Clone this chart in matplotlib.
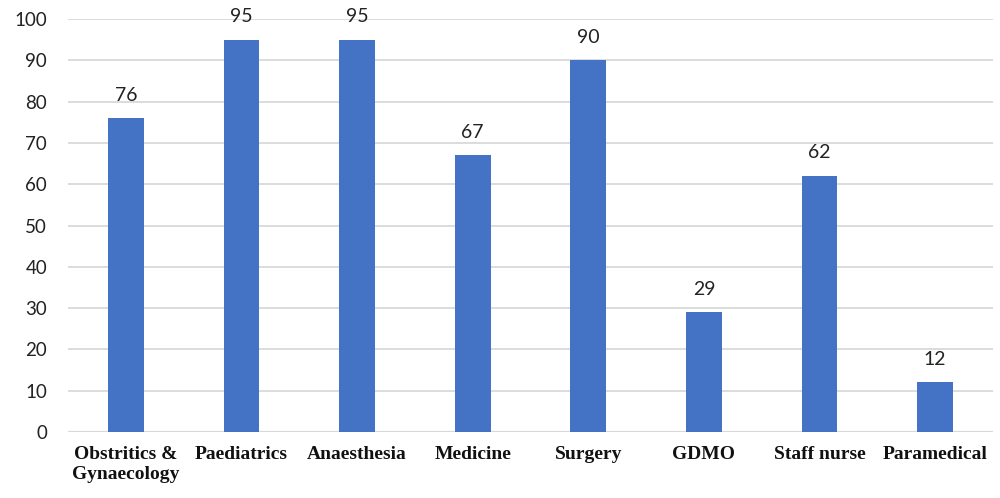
import matplotlib
matplotlib.use("Agg")
import matplotlib.pyplot as plt

categories = ["Obstritics &\nGynaecology", "Paediatrics", "Anaesthesia", "Medicine",
              "Surgery", "GDMO", "Staff nurse", "Paramedical"]
values = [76, 95, 95, 67, 90, 29, 62, 12]
yticks = list(range(0, 101, 10))

fig = plt.figure(figsize=(10, 4.98), dpi=100)
ax = fig.add_axes([0.068, 0.1325, 0.925, 0.8293])

x = list(range(len(categories)))
bars = ax.bar(x, values, width=0.31, color="#4472C4", zorder=3)
ax.set_xlim(-0.5, len(categories) - 0.5)
ax.set_ylim(0, 100)
ax.set_yticks(yticks)
ax.set_yticklabels([str(t) for t in yticks], fontfamily="Lato", fontsize=13.5, color="#222222")
ax.set_xticks(x)
ax.set_xticklabels(categories, fontfamily="Liberation Serif", fontweight="bold",
                   fontsize=14, color="#111111", linespacing=1.2)
ax.tick_params(axis="y", length=0, pad=15)
ax.tick_params(axis="x", length=0, pad=10)
ax.grid(axis="y", color="#D9D9D9", linewidth=1.3, zorder=0)
for s in ax.spines.values():
    s.set_visible(False)
ax.axhline(0, color="#D9D9D9", linewidth=1.6, zorder=2)

for xi, v in zip(x, values):
    ax.annotate(str(v), (xi, v), xytext=(0, 10.5), textcoords="offset points",
                ha="center", va="bottom", fontfamily="Lato", fontsize=14, color="#222222")

fig.savefig("out.png", dpi=100)
